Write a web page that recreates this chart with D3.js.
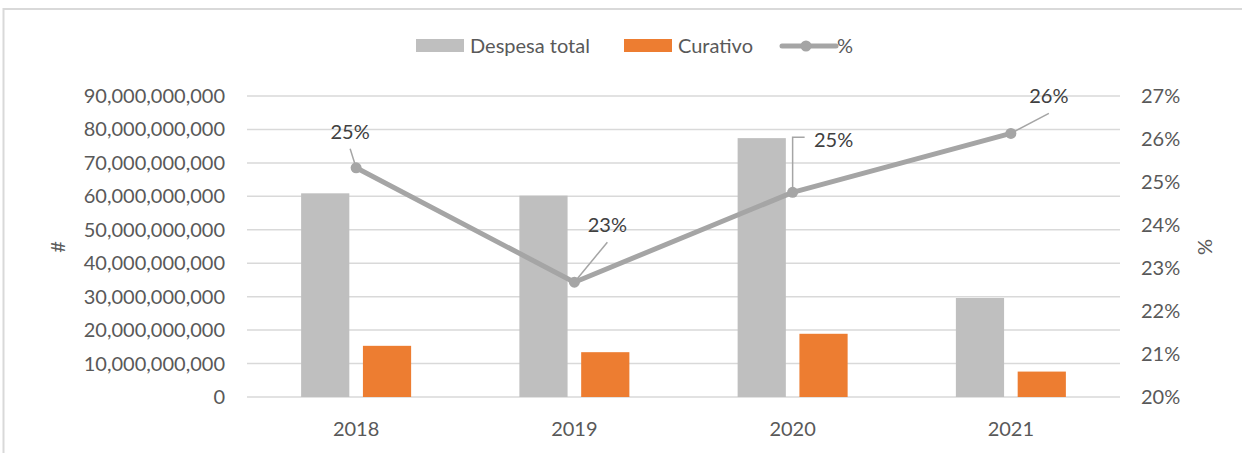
<!DOCTYPE html>
<html>
<head>
<meta charset="utf-8">
<script src="https://cdn.jsdelivr.net/npm/d3@7"></script>
<style>
  body { margin: 0; background: #fff; }
  text { font-family: Lato, "Open Sans", sans-serif; fill: #595959; }
</style>
</head>
<body>
<div id="chart"></div>
<script>
// Chart data
const years = ["2018", "2019", "2020", "2021"];
const despesaTotal = [60.9e9, 60.2e9, 77.4e9, 29.6e9];
const curativo = [15.3e9, 13.4e9, 18.9e9, 7.6e9];
const pct = [0.2533, 0.2267, 0.2476, 0.2613];
const pctLabels = ["25%", "23%", "25%", "26%"];
const leftTicks = d3.range(0, 90e9 + 1, 10e9);
const rightTicks = [0.20, 0.21, 0.22, 0.23, 0.24, 0.25, 0.26, 0.27];

const width = 1242;
const height = 453;
const margin = { top: 96, right: 122, bottom: 56, left: 247 };
const fontSize = "20px";

const svg = d3.select("#chart")
    .append("svg")
    .attr("width", width)
    .attr("height", height);

// Chart frame
svg.append("rect")
    .attr("x", 3.5).attr("y", 9)
    .attr("width", width + 10).attr("height", height + 10)
    .attr("fill", "none")
    .attr("stroke", "#d9d9d9")
    .attr("stroke-width", 2);

const x = d3.scaleBand()
    .domain(years)
    .range([margin.left, width - margin.right]);

const x1 = d3.scaleBand()
    .domain(["total", "cur"])
    .range([0, 110])
    .paddingInner(0.22);

const y = d3.scaleLinear()
    .domain([0, 90e9])
    .range([height - margin.bottom, margin.top]);

const yR = d3.scaleLinear()
    .domain([0.20, 0.27])
    .range([height - margin.bottom, margin.top]);

// Gridlines
svg.append("g")
    .selectAll("line")
    .data(leftTicks)
    .enter().append("line")
    .attr("x1", margin.left)
    .attr("x2", width - margin.right)
    .attr("y1", d => y(d))
    .attr("y2", d => y(d))
    .attr("stroke", "#d9d9d9")
    .attr("stroke-width", 1.5);

// Left axis labels
const fmt = d3.format(",");
svg.append("g")
    .selectAll("text")
    .data(leftTicks)
    .enter().append("text")
    .attr("x", 225)
    .attr("y", d => y(d))
    .attr("dy", "0.35em")
    .attr("text-anchor", "end")
    .style("font-size", fontSize)
    .text(d => fmt(d));

// Right axis labels
svg.append("g")
    .selectAll("text")
    .data(rightTicks)
    .enter().append("text")
    .attr("x", 1141)
    .attr("y", d => yR(d))
    .attr("dy", "0.35em")
    .style("font-size", fontSize)
    .text(d => Math.round(d * 100) + "%");

// Axis titles
svg.append("text")
    .attr("transform", "translate(65,247) rotate(-90)")
    .attr("text-anchor", "middle")
    .style("font-size", fontSize)
    .text("#");

svg.append("text")
    .attr("transform", "translate(1212,247) rotate(-90)")
    .attr("text-anchor", "middle")
    .style("font-size", fontSize)
    .text("%");

// Category labels
svg.append("g")
    .selectAll("text")
    .data(years)
    .enter().append("text")
    .attr("x", d => x(d) + x.bandwidth() / 2)
    .attr("y", 429)
    .attr("dy", "0.35em")
    .attr("text-anchor", "middle")
    .style("font-size", fontSize)
    .text(d => d);

// Bars
const groupOffset = (x.bandwidth() - x1.range()[1]) / 2;

svg.append("g")
    .selectAll("rect")
    .data(years)
    .enter().append("rect")
    .attr("x", d => x(d) + groupOffset + x1("total"))
    .attr("width", x1.bandwidth())
    .attr("y", (d, i) => y(despesaTotal[i]))
    .attr("height", (d, i) => y(0) - y(despesaTotal[i]))
    .attr("fill", "#bfbfbf");

svg.append("g")
    .selectAll("rect")
    .data(years)
    .enter().append("rect")
    .attr("x", d => x(d) + groupOffset + x1("cur"))
    .attr("width", x1.bandwidth())
    .attr("y", (d, i) => y(curativo[i]))
    .attr("height", (d, i) => y(0) - y(curativo[i]))
    .attr("fill", "#ed7d31");

// Percentage line
const cx = d => x(d) + x.bandwidth() / 2;
const line = d3.line()
    .x((d, i) => cx(years[i]))
    .y(d => yR(d));

svg.append("path")
    .datum(pct)
    .attr("d", line)
    .attr("fill", "none")
    .attr("stroke", "#a5a5a5")
    .attr("stroke-width", 5)
    .attr("stroke-linejoin", "round");

// Leader lines for the data labels (label offset from the point)
const labelOffsets = [[-6, -36], [33, -57], [41, -52], [38, -37]];

const leaders = svg.append("g")
    .attr("stroke", "#a5a5a5")
    .attr("stroke-width", 1.5)
    .attr("fill", "none");

pct.forEach((v, i) => {
    const px = cx(years[i]);
    const py = yR(v);
    const [dx, dy] = labelOffsets[i];
    let d;
    if (i === 2) {
        d = `M${px},${py} V${py + dy - 3} H${px + 12}`;
    } else {
        d = `M${px},${py} L${px + dx},${py + dy + 17}`;
    }
    leaders.append("path").attr("d", d);
});

svg.append("g")
    .selectAll("circle")
    .data(pct)
    .enter().append("circle")
    .attr("cx", (d, i) => cx(years[i]))
    .attr("cy", d => yR(d))
    .attr("r", 5.5)
    .attr("fill", "#a5a5a5");

svg.append("g")
    .selectAll("text")
    .data(pct)
    .enter().append("text")
    .attr("x", (d, i) => cx(years[i]) + labelOffsets[i][0])
    .attr("y", (d, i) => yR(d) + labelOffsets[i][1])
    .attr("dy", "0.35em")
    .attr("text-anchor", "middle")
    .style("font-size", fontSize)
    .style("fill", "#404040")
    .text((d, i) => pctLabels[i]);

// Legend
const legend = svg.append("g").attr("transform", "translate(0,46)");
legend.append("rect").attr("x", 416).attr("y", -7).attr("width", 48).attr("height", 13).attr("fill", "#bfbfbf");
legend.append("text").attr("x", 470).attr("dy", "0.35em").style("font-size", fontSize).text("Despesa total");
legend.append("rect").attr("x", 624).attr("y", -7).attr("width", 48).attr("height", 13).attr("fill", "#ed7d31");
legend.append("text").attr("x", 678).attr("dy", "0.35em").style("font-size", fontSize).text("Curativo");
legend.append("line").attr("x1", 782).attr("x2", 836).attr("y1", 0).attr("y2", 0)
    .attr("stroke", "#a5a5a5").attr("stroke-width", 5).attr("stroke-linecap", "round");
legend.append("circle").attr("cx", 806).attr("cy", 0).attr("r", 5.5).attr("fill", "#a5a5a5");
legend.append("text").attr("x", 837).attr("dy", "0.35em").style("font-size", fontSize).text("%");
</script>
</body>
</html>
